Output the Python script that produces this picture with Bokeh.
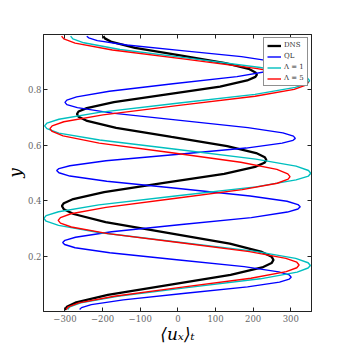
from bokeh.plotting import figure
from bokeh.models import Range1d, FixedTicker, LinearAxis
from bokeh.embed import file_html
from bokeh.resources import INLINE

# ---- data ----
y_dns = [0.006, 0.017, 0.033, 0.060, 0.096, 0.132, 0.159, 0.175, 0.186,
         0.198, 0.215, 0.245, 0.284, 0.323, 0.352, 0.369, 0.381,
         0.391, 0.406, 0.431, 0.464, 0.497, 0.522, 0.537, 0.547,
         0.557, 0.572, 0.597, 0.630, 0.663, 0.688, 0.703, 0.713,
         0.722, 0.734, 0.756, 0.784, 0.812, 0.834, 0.847, 0.855,
         0.863, 0.876, 0.897, 0.925, 0.952, 0.973, 0.986, 0.994]
u_dns = [-300, -295, -270, -186, -23, 140, 224, 249, 254,
         249, 223, 138, -27, -192, -277, -303, -308,
         -303, -278, -196, -37, 123, 205, 230, 235,
         231, 208, 131, -17, -164, -241, -264, -268,
         -264, -242, -170, -29, 112, 184, 206, 210,
         206, 188, 126, 6, -114, -176, -194, -198]

y_ql = [0.007, 0.014, 0.025, 0.042, 0.066, 0.089, 0.106, 0.117, 0.124,
        0.132, 0.143, 0.162, 0.187, 0.212, 0.230, 0.242, 0.249,
        0.257, 0.268, 0.288, 0.314, 0.339, 0.359, 0.370, 0.378,
        0.386, 0.398, 0.417, 0.444, 0.470, 0.489, 0.501, 0.509,
        0.516, 0.526, 0.544, 0.567, 0.590, 0.608, 0.618, 0.625,
        0.633, 0.645, 0.664, 0.690, 0.716, 0.736, 0.747, 0.755,
        0.763, 0.775, 0.795, 0.822, 0.848, 0.868, 0.880, 0.888,
        0.894, 0.904, 0.920, 0.941, 0.962, 0.978, 0.988, 0.994]
u_ql = [-261, -256, -230, -145, 20, 185, 270, 296, 301,
        296, 268, 176, -3, -181, -273, -301, -306,
        -300, -272, -176, 10, 195, 291, 319, 325,
        319, 290, 192, 2, -189, -287, -316, -322,
        -316, -287, -191, -5, 181, 277, 306, 312,
        307, 279, 186, 6, -174, -267, -295, -300,
        -295, -269, -182, -13, 157, 244, 270, 275,
        270, 247, 169, 17, -136, -214, -237, -242]

y_l1 = [0.007, 0.017, 0.031, 0.055, 0.087, 0.118, 0.142, 0.157, 0.166,
        0.176, 0.192, 0.217, 0.251, 0.285, 0.311, 0.326, 0.336,
        0.346, 0.360, 0.385, 0.418, 0.450, 0.475, 0.489, 0.499,
        0.509, 0.525, 0.550, 0.585, 0.619, 0.644, 0.660, 0.670,
        0.680, 0.694, 0.719, 0.752, 0.784, 0.809, 0.823, 0.833,
        0.843, 0.857, 0.881, 0.914, 0.946, 0.970, 0.984, 0.994]
u_l1 = [-293, -287, -258, -160, 30, 219, 317, 346, 352,
        346, 313, 206, -2, -210, -317, -350, -356,
        -350, -317, -210, -1, 207, 314, 347, 353,
        347, 314, 207, 0, -208, -316, -348, -354,
        -348, -316, -209, -2, 205, 312, 344, 350,
        344, 315, 219, 33, -154, -250, -279, -285]

y_l5 = [0.007, 0.017, 0.031, 0.055, 0.088, 0.120, 0.144, 0.158, 0.168,
        0.178, 0.192, 0.216, 0.249, 0.281, 0.305, 0.319, 0.329,
        0.339, 0.353, 0.376, 0.408, 0.440, 0.463, 0.478, 0.487,
        0.497, 0.513, 0.539, 0.574, 0.608, 0.634, 0.650, 0.660,
        0.670, 0.685, 0.710, 0.744, 0.777, 0.802, 0.817, 0.827,
        0.837, 0.852, 0.877, 0.911, 0.944, 0.969, 0.984, 0.994]
u_l5 = [-297, -291, -263, -169, 12, 194, 288, 316, 322,
        316, 287, 190, 2, -186, -283, -312, -318,
        -312, -284, -191, -10, 171, 264, 293, 298,
        292, 263, 167, -21, -209, -305, -334, -340,
        -334, -303, -199, 3, 205, 309, 340, 346,
        340, 310, 211, 19, -174, -273, -303, -309]

series_names = ["DNS", "QL", "Λ = 1", "Λ = 5"]

x_ticks = [-300, -200, -100, 0, 100, 200, 300]
x_tick_labels = ["−300", "−200", "−100", "0", "100", "200", "300"]
y_ticks = [0.2, 0.4, 0.6, 0.8]
y_tick_labels = ["0.2", "0.4", "0.6", "0.8"]

x_label = "⟨uₓ⟩ₜ"
y_label = "y"

# ---- figure ----
p = figure(width=346, height=346, output_backend="svg", toolbar_location=None,
           x_range=Range1d(-357, 355), y_range=Range1d(0, 1),
           min_border_left=43, min_border_right=35,
           min_border_top=34, min_border_bottom=35)
p.grid.visible = False
p.outline_line_color = "#222222"
p.outline_line_width = 1

p.line(u_dns, y_dns, line_color="black", line_width=2.3, legend_label=series_names[0])
p.line(u_ql, y_ql, line_color="#0000ff", line_width=1.4, legend_label=series_names[1])
p.line(u_l1, y_l1, line_color="#00bfbf", line_width=1.4, legend_label=series_names[2])
p.line(u_l5, y_l5, line_color="#ff0000", line_width=1.4, legend_label=series_names[3])

bottom = p.xaxis[0]
left = p.yaxis[0]
top = LinearAxis()
right = LinearAxis()
p.add_layout(top, "above")
p.add_layout(right, "right")

bottom.ticker = FixedTicker(ticks=x_ticks)
top.ticker = FixedTicker(ticks=x_ticks)
left.ticker = FixedTicker(ticks=y_ticks)
right.ticker = FixedTicker(ticks=y_ticks)

bottom.major_label_overrides = {t: l for t, l in zip(x_ticks, x_tick_labels)}
left.major_label_overrides = {t: l for t, l in zip(y_ticks, y_tick_labels)}
top.major_label_overrides = {t: "" for t in x_ticks}
right.major_label_overrides = {t: "" for t in y_ticks}

for ax in (bottom, left, top, right):
    ax.axis_line_color = "#222222"
    ax.major_tick_in = 4
    ax.major_tick_out = 0
    ax.major_tick_line_color = "#222222"
    ax.minor_tick_line_color = None
    ax.major_label_text_font = "DejaVu Serif"
    ax.major_label_text_font_size = "8.5px"
    ax.major_label_text_color = "#666666"

top.major_label_standoff = 0
right.major_label_standoff = 0
bottom.major_label_standoff = 3
left.major_label_standoff = 2

bottom.axis_label = x_label
bottom.axis_label_text_font = "DejaVu Serif"
bottom.axis_label_text_font_style = "italic"
bottom.axis_label_text_font_size = "17px"
bottom.axis_label_text_color = "black"
bottom.axis_label_standoff = -1

left.axis_label = y_label
left.axis_label_text_font = "DejaVu Serif"
left.axis_label_text_font_style = "italic"
left.axis_label_text_font_size = "17px"
left.axis_label_text_color = "black"
left.axis_label_standoff = 0

lg = p.legend[0]
lg.location = "top_right"
lg.margin = 3
lg.padding = 3
lg.spacing = 3
lg.glyph_width = 14
lg.glyph_height = 7
lg.label_height = 7
lg.label_standoff = 3
lg.label_text_font = "DejaVu Serif"
lg.label_text_font_size = "7px"
lg.label_text_color = "#333333"
lg.border_line_color = "#222222"
lg.border_line_width = 1
lg.background_fill_alpha = 1

open("out.html", "w").write(file_html(p, INLINE))
